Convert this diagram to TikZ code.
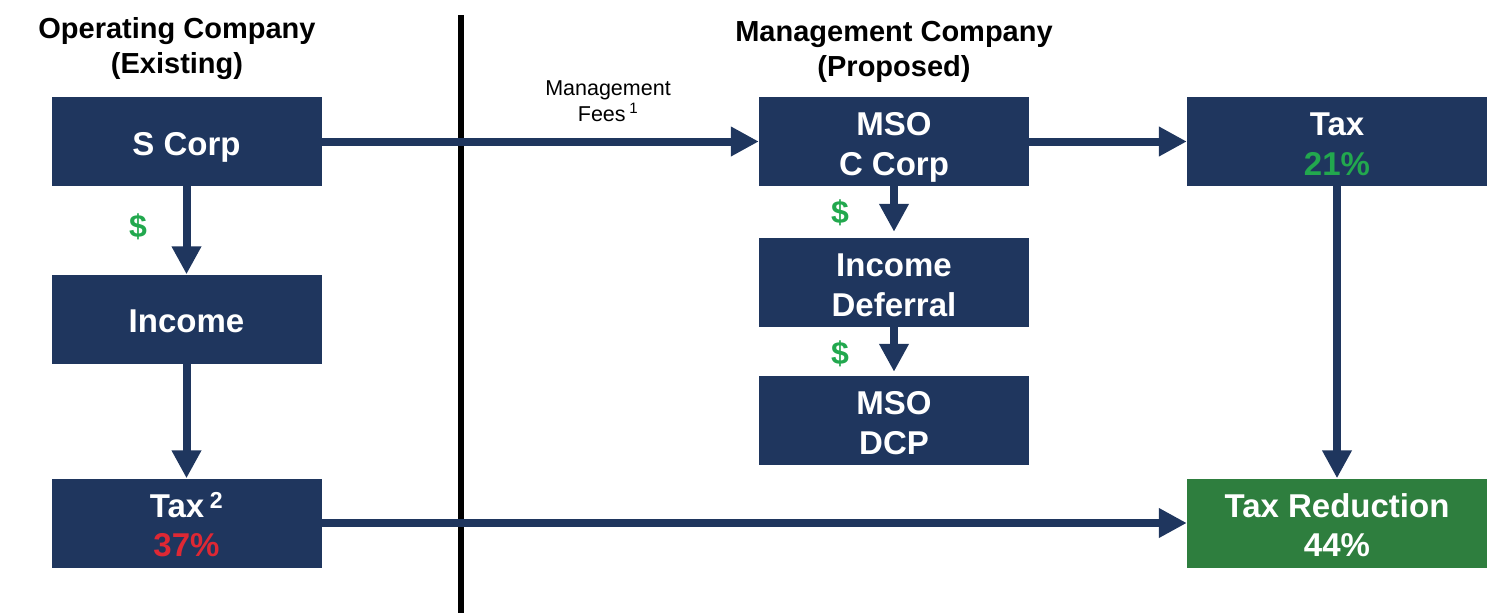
\documentclass[tikz,border=0pt]{standalone}
\usepackage{fontspec}
\setmainfont{Liberation Sans}
\usetikzlibrary{arrows.meta}
\definecolor{navy}{RGB}{31,54,94}
\definecolor{boxgreen}{RGB}{46,126,62}
\definecolor{dollar}{RGB}{34,168,78}
\definecolor{lossred}{RGB}{222,40,52}
\tikzset{
  box/.style={fill=navy, text=white, minimum width=270pt, minimum height=89pt,
    inner sep=0pt, align=center, text height=27.6pt, text depth=0pt,
    font=\bfseries\fontsize{33}{39.5}\selectfont},
  twolines/.style={text height=67.1pt},
  widebox/.style={box, minimum width=300pt},
  heading/.style={align=center, font=\bfseries\fontsize{29}{35}\selectfont},
  flow/.style={draw=navy, line width=8pt, -{Triangle[width=28pt,length=28pt]}},
  money/.style={text=dollar, font=\bfseries\fontsize{32}{36}\selectfont, inner sep=0pt},
}
\begin{document}
\begin{tikzpicture}[x=1pt, y=-1pt]
  \useasboundingbox (0,0) rectangle (1487,613);

  % column headings
  \node[heading] (hopco) at (177,49) {Operating Company\\(Existing)};
  \node[heading] (hmso) at (894,52) {Management Company\\(Proposed)};

  % divider between the two companies
  \draw[line width=6pt] (461,15) -- (461,613);

  % existing structure
  \node[box] (scorp) at (186.5,141.5) {S Corp};
  \node[box] (income) at (186.5,319) {Income};
  \node[box, twolines] (taxold) at (186.5,523) {Tax\,\textsuperscript{2}\\\textcolor{lossred}{37\%}};

  % proposed structure
  \node[box, twolines] (mso) at (894,141.5) {MSO\\C Corp};
  \node[box, twolines] (defer) at (894,282.5) {Income\\Deferral};
  \node[box, twolines] (dcp) at (894,420.5) {MSO\\DCP};
  \node[widebox, twolines] (taxnew) at (1337,141.5) {Tax\\\textcolor{dollar}{21\%}};
  \node[widebox, twolines, fill=boxgreen] (saving) at (1337,523) {Tax Reduction\\44\%};

  % flows
  \draw[flow] (scorp.east) -- (mso.west);
  \draw[flow] (mso.east) -- (taxnew.west);
  \draw[flow] (scorp.south) -- (income.north);
  \draw[flow] (income.south) -- (taxold.north);
  \draw[flow] (taxold.east) -- (saving.west);
  \draw[flow] (taxnew.south) -- (saving.north);
  \draw[flow, shorten >=6pt] (mso.south) -- (defer.north);
  \draw[flow, shorten >=4pt] (defer.south) -- (dcp.north);

  % labels
  \node[align=center, font=\fontsize{21.5}{26}\selectfont] (fees) at (608,101)
    {Management\\Fees\,\textsuperscript{1}};
  \node[money] (d1) at (138,227) {\$};
  \node[money] (d2) at (840,213) {\$};
  \node[money] (d3) at (840,354) {\$};
\end{tikzpicture}
\end{document}
